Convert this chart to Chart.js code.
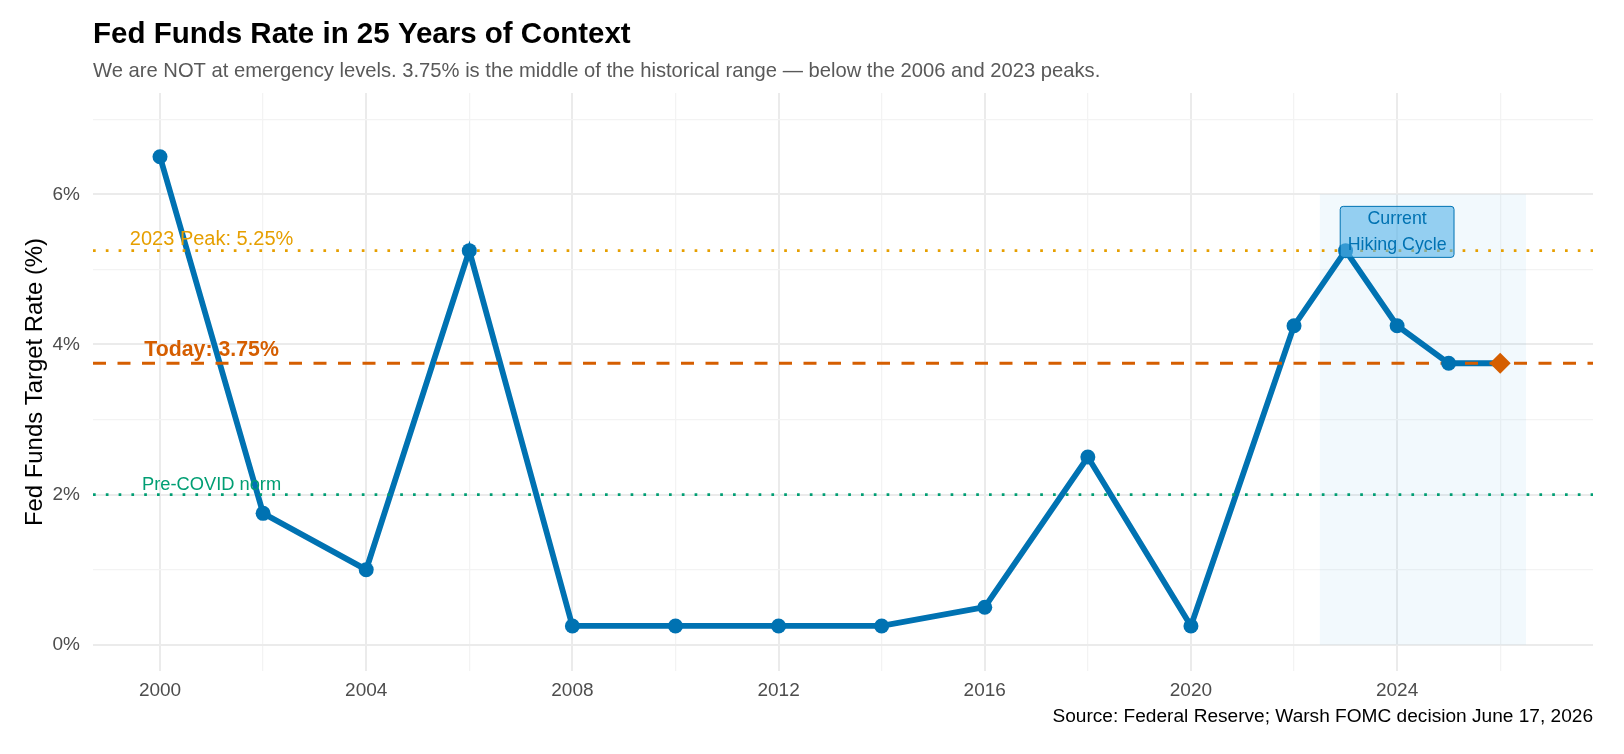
<!DOCTYPE html>
<html>
<head>
<meta charset="utf-8">
<script src="https://cdn.jsdelivr.net/npm/chart.js@4/dist/chart.umd.min.js"></script>
<style>
  html, body { margin: 0; padding: 0; background: #ffffff; }
  #wrap { width: 1624px; height: 754px; position: relative; }
</style>
</head>
<body>
<div id="wrap"><canvas id="chart" width="1624" height="754"></canvas></div>
<script>
// Fed funds target rate, sampled years
const YEARS = [2000, 2002, 2004, 2006, 2008, 2010, 2012, 2014, 2016, 2018, 2020, 2022, 2023, 2024, 2025, 2026];
const RATES = [6.5, 1.75, 1.0, 5.25, 0.25, 0.25, 0.25, 0.25, 0.5, 2.5, 0.25, 4.25, 5.25, 4.25, 3.75, 3.75];

// reference lines
const REF_VALUES = [5.25, 3.75, 2.0];
const REF_LABELS = ['2023 Peak: 5.25%', 'Today: 3.75%', 'Pre-COVID norm'];
const REF_LABEL_YEAR = 2001;

// shaded "current cycle" window
const CYCLE_START = 2022.5;
const CYCLE_END = 2026.5;
const CYCLE_TOP = 6;
const CYCLE_LABEL = ['Current', 'Hiking Cycle'];
const CYCLE_LABEL_AT = [2024, 5.5];

// axis ticks
const X_GRID = [2000, 2002, 2004, 2006, 2008, 2010, 2012, 2014, 2016, 2018, 2020, 2022, 2024, 2026];
const X_LABELS = [2000, 2004, 2008, 2012, 2016, 2020, 2024];
const Y_GRID = [0, 1, 2, 3, 4, 5, 6, 7];
const Y_LABELS = [0, 2, 4, 6];

const TITLE = 'Fed Funds Rate in 25 Years of Context';
const SUBTITLE = 'We are NOT at emergency levels. 3.75% is the middle of the historical range \u2014 below the 2006 and 2023 peaks.';
const CAPTION = 'Source: Federal Reserve; Warsh FOMC decision June 17, 2026';
const Y_TITLE = 'Fed Funds Target Rate (%)';

const FONT = '"Liberation Sans", Arial, Helvetica, sans-serif';
const BLUE = '#0072B2';
const ORANGE = '#D55E00';
const REF_STYLES = [
  { color: '#E69F00', dash: [2.7, 10.1], width: 2.7, font: '20px ' + FONT, lift: 11 },
  { color: '#D55E00', dash: [13, 11.5], width: 2.8, font: 'bold 21.3px ' + FONT, lift: 13 },
  { color: '#009E73', dash: [2.7, 10.1], width: 2.7, font: '18.3px ' + FONT, lift: 9.5 },
];

const points = YEARS.map((y, i) => ({ x: y, y: RATES[i] }));
const lastIdx = points.length - 1;

const sx = (c, v) => c.scales.x.getPixelForValue(v);
const sy = (c, v) => c.scales.y.getPixelForValue(v);

const decorPlugin = {
  id: 'decor',
  beforeDatasetsDraw(chart) {
    const ctx = chart.ctx;
    ctx.save();
    ctx.fillStyle = 'rgba(86,180,233,0.08)';
    const x0 = sx(chart, CYCLE_START), x1 = sx(chart, CYCLE_END);
    const y0 = sy(chart, CYCLE_TOP), y1 = sy(chart, 0);
    ctx.fillRect(x0, y0, x1 - x0, y1 - y0);
    ctx.restore();
  },
  afterDatasetDraw(chart, args) {
    if (args.index !== 0) return;
    const ctx = chart.ctx;
    const a = chart.chartArea;
    ctx.save();
    REF_VALUES.forEach((v, i) => {
      const st = REF_STYLES[i];
      const y = sy(chart, v);
      ctx.strokeStyle = st.color;
      ctx.lineWidth = st.width;
      ctx.setLineDash(st.dash);
      ctx.lineCap = 'butt';
      ctx.beginPath();
      ctx.moveTo(a.left, y);
      ctx.lineTo(a.right, y);
      ctx.stroke();
    });
    ctx.restore();
  },
  afterDatasetsDraw(chart) {
    const ctx = chart.ctx;
    ctx.save();
    ctx.textAlign = 'center';
    ctx.textBaseline = 'middle';
    REF_VALUES.forEach((v, i) => {
      const st = REF_STYLES[i];
      ctx.font = st.font;
      ctx.fillStyle = st.color;
      ctx.fillText(REF_LABELS[i], sx(chart, REF_LABEL_YEAR), sy(chart, v) - st.lift);
    });

    // label box for the current cycle
    ctx.font = '17.8px ' + FONT;
    const lh = 26.5;
    const w = Math.max(...CYCLE_LABEL.map(t => ctx.measureText(t).width)) + 15;
    const h = lh * CYCLE_LABEL.length - 2;
    const cx = sx(chart, CYCLE_LABEL_AT[0]);
    const cy = sy(chart, CYCLE_LABEL_AT[1]);
    const bx = cx - w / 2, by = cy - h / 2, r = 3;
    ctx.beginPath();
    ctx.moveTo(bx + r, by);
    ctx.lineTo(bx + w - r, by);
    ctx.quadraticCurveTo(bx + w, by, bx + w, by + r);
    ctx.lineTo(bx + w, by + h - r);
    ctx.quadraticCurveTo(bx + w, by + h, bx + w - r, by + h);
    ctx.lineTo(bx + r, by + h);
    ctx.quadraticCurveTo(bx, by + h, bx, by + h - r);
    ctx.lineTo(bx, by + r);
    ctx.quadraticCurveTo(bx, by, bx + r, by);
    ctx.closePath();
    ctx.fillStyle = 'rgba(86,180,233,0.6)';
    ctx.fill();
    ctx.lineWidth = 1;
    ctx.strokeStyle = BLUE;
    ctx.stroke();
    ctx.fillStyle = BLUE;
    CYCLE_LABEL.forEach((t, i) => {
      ctx.fillText(t, cx, cy + (i - (CYCLE_LABEL.length - 1) / 2) * lh);
    });
    ctx.restore();
  },
  afterDraw(chart) {
    const ctx = chart.ctx;
    const a = chart.chartArea;
    ctx.save();
    ctx.textBaseline = 'middle';
    ctx.textAlign = 'left';
    ctx.fillStyle = '#000000';
    ctx.font = 'bold 29.5px ' + FONT;
    ctx.fillText(TITLE, a.left, 35);
    ctx.fillStyle = '#595959';
    ctx.font = '20.2px ' + FONT;
    ctx.fillText(SUBTITLE, a.left, 71.5);
    ctx.fillStyle = '#000000';
    ctx.textAlign = 'right';
    ctx.font = '19.1px ' + FONT;
    ctx.fillText(CAPTION, a.right, 717);
    ctx.translate(35, (a.top + a.bottom) / 2);
    ctx.rotate(-Math.PI / 2);
    ctx.textAlign = 'center';
    ctx.font = '23.9px ' + FONT;
    ctx.fillText(Y_TITLE, 0, 0);
    ctx.restore();
  },
};

new Chart(document.getElementById('chart'), {
  type: 'scatter',
  data: {
    datasets: [
      {
        data: points,
        showLine: true,
        borderColor: BLUE,
        borderWidth: 5.8,
        pointRadius: 0,
        pointHoverRadius: 0,
        tension: 0,
        order: 2,
      },
      {
        data: points,
        showLine: false,
        pointStyle: ctx => ctx.dataIndex === lastIdx ? 'rectRot' : 'circle',
        pointRadius: ctx => ctx.dataIndex === lastIdx ? 10.5 : 7.5,
        pointHoverRadius: ctx => ctx.dataIndex === lastIdx ? 10.5 : 7.5,
        pointBackgroundColor: ctx => ctx.dataIndex === lastIdx ? ORANGE : BLUE,
        pointBorderWidth: 0,
        order: 1,
      },
    ],
  },
  options: {
    responsive: false,
    animation: false,
    events: [],
    layout: { padding: { top: 93, right: 31, left: 0, bottom: 0 } },
    plugins: {
      legend: { display: false },
      tooltip: { enabled: false },
    },
    scales: {
      x: {
        type: 'linear',
        min: 1998.7,
        max: 2027.8,
        afterFit: s => { s.height = 83; },
        afterBuildTicks: s => { s.ticks = X_GRID.map(v => ({ value: v })); },
        border: { display: false },
        grid: {
          drawTicks: false,
          color: c => X_LABELS.includes(c.tick.value) ? '#ebebeb' : '#f3f3f3',
          lineWidth: c => X_LABELS.includes(c.tick.value) ? 2 : 1.3,
        },
        ticks: {
          padding: 8,
          color: '#4d4d4d',
          font: { family: FONT, size: 19 },
          maxRotation: 0,
          autoSkip: false,
          callback: v => X_LABELS.includes(v) ? String(v) : '',
        },
      },
      y: {
        type: 'linear',
        min: -0.35,
        max: 7.35,
        afterFit: s => { s.width = 93; },
        afterBuildTicks: s => { s.ticks = Y_GRID.map(v => ({ value: v })); },
        border: { display: false },
        grid: {
          drawTicks: false,
          color: c => Y_LABELS.includes(c.tick.value) ? '#ebebeb' : '#f3f3f3',
          lineWidth: c => Y_LABELS.includes(c.tick.value) ? 2 : 1.3,
        },
        ticks: {
          padding: 13,
          color: '#4d4d4d',
          font: { family: FONT, size: 19 },
          autoSkip: false,
          callback: v => Y_LABELS.includes(v) ? v + '%' : '',
        },
      },
    },
  },
  plugins: [decorPlugin],
});
</script>
</body>
</html>
